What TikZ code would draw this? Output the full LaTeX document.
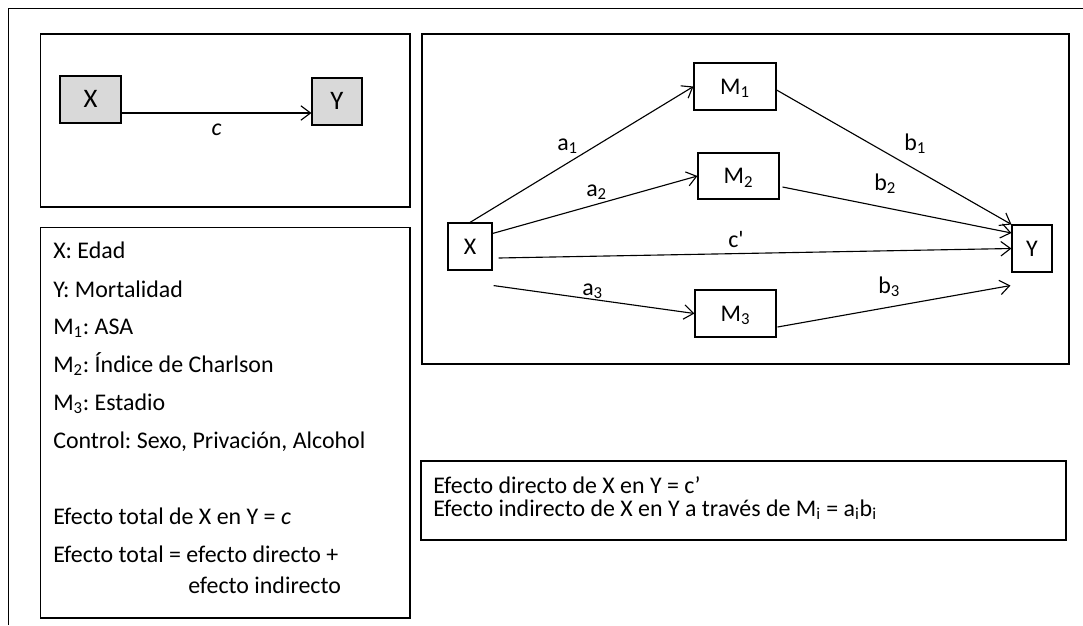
\documentclass[tikz,border=0pt]{standalone}
\usepackage{fontspec}
\setmainfont{Carlito}
\frenchspacing
\usepackage{tikz}
\usetikzlibrary{arrows.meta, calc, positioning}
\definecolor{varGray}{RGB}{217,217,217}
\tikzset{
  var/.style={draw, line width=0.8pt, inner sep=0pt, minimum height=1.175cm,
              text height=11pt, text depth=0pt},
  frame/.style={draw, line width=1pt},
  txt/.style={anchor=base west, inner sep=0pt},
  link/.style={line width=0.8pt, -{Straight Barb[length=2.4mm, width=3.6mm]}},
}

\begin{document}
\begin{tikzpicture}[x=0.025cm, y=-0.025cm, font=\fontsize{17}{20}\selectfont]
  \useasboundingbox (0,0) rectangle (1083,625);
  % ----- frames -----
  \draw[line width=1pt] (8.5,625) -- (8.5,8.5) -- (1083,8.5);  % outer frame
  \draw[frame] (40.5,34) rectangle (410,207);     % total effect
  \draw[frame] (40.5,227.5) rectangle (410,618);  % legend
  \draw[frame] (422,34) rectangle (1069,364);     % mediation model
  \draw[frame] (421,461) rectangle (1066,540);    % effects

  % ----- total effect -----
  \node[var, fill=varGray, minimum width=1.525cm, font=\fontsize{19}{22}\selectfont,
        text height=12pt] (tx) at (90.5,99.5) {X};
  \node[var, fill=varGray, minimum width=1.25cm, font=\fontsize{19}{22}\selectfont,
        text height=12pt] (ty) at (337,101.5) {Y};
  \draw[link] ($(tx.east)+(0,13.5)$) -- ($(ty.west)+(0,11.5)$)
       node[midway, below=4pt] (tc) {\textit{c}};

  % ----- mediation model -----
  \node[var, minimum width=1.1cm]   (x)  at (470,246.5) {X};
  \node[var, minimum width=2.05cm]  (m1) at (735,86.5)  {M\textsubscript{1}};
  \node[var, minimum width=2.025cm, minimum height=1.15cm]
        (m2) at (738.5,176) {M\textsubscript{2}};
  \node[var, minimum width=2.025cm] (m3) at (735.5,313.5) {M\textsubscript{3}};
  \node[var, minimum width=1cm]     (y)  at (1032,248.5) {Y};

  \draw[link] (x.north) -- (m1.west);
  \draw[link] (x.30) -- (m2.west);
  \draw[link] ($(x.east)+(6,11.5)$) -- (y.west);
  \draw[link] ($(x.south east)+(1,15)$) -- (m3.west);
  \draw[link] ($(m1.east)+(0,3.5)$) -- (y.north west);
  \draw[link] ($(m2.east)+(3,11)$) -- ($(y.west)+(0,-15.5)$);
  \draw[link] ($(m3.east)+(1,13.5)$) -- ($(y.south west)+(-1,13)$);

  \node[txt] (la1) at (557,150) {a\textsubscript{1}};
  \node[txt] (la2) at (586,196) {a\textsubscript{2}};
  \node[txt] (la3) at (582,295) {a\textsubscript{3}};
  \node[txt] (lc)  at (728,247) {c\textquotesingle};
  \node[txt] (lb1) at (904,150) {b\textsubscript{1}};
  \node[txt] (lb2) at (874,190) {b\textsubscript{2}};
  \node[txt] (lb3) at (878,293) {b\textsubscript{3}};

  % ----- legend -----
  \node[txt] (lx)   at (53,258) {X: Edad};
  \node[txt] (ly)   at (53,297) {Y: Mortalidad};
  \node[txt] (lm1)  at (53,334) {M\textsubscript{1}: ASA};
  \node[txt] (lm2)  at (53,372) {M\textsubscript{2}: Índice de Charlson};
  \node[txt] (lm3)  at (53,410) {M\textsubscript{3}: Estadio};
  \node[txt] (lctl) at (53,448) {Control: Sexo, Privación, Alcohol};
  \node[txt] (ltot) at (53,524) {Efecto total de X en Y = \textit{c}};
  \node[txt] (lsum) at (53,562) {Efecto total = efecto directo +};
  \node[txt] (lind) at (188,593) {efecto indirecto};

  % ----- effects -----
  \node[txt] (edir) at (433,493) {Efecto directo de X en Y = c'};
  \node[txt] (eind) at (433,516)
        {Efecto indirecto de X en Y a través de M\textsubscript{i} = a\textsubscript{i}b\textsubscript{i}};
\end{tikzpicture}
\end{document}
